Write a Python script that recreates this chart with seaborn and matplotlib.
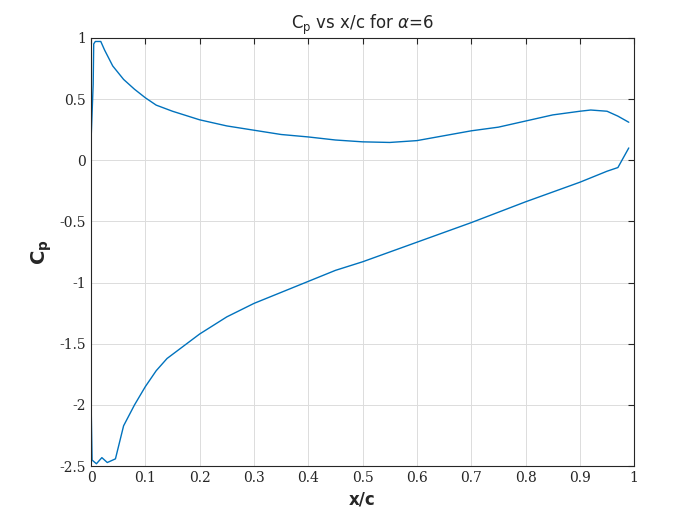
import numpy as np
import pandas as pd
import seaborn as sns
import matplotlib.pyplot as plt

# Surface points, traced from trailing edge (upper) round the leading edge to trailing edge (lower)
x_upper = [0.99, 0.97, 0.95, 0.92, 0.90, 0.85, 0.80, 0.75, 0.70, 0.65, 0.60, 0.55, 0.50,
           0.45, 0.40, 0.35, 0.30, 0.25, 0.20, 0.15, 0.12, 0.10, 0.08, 0.06, 0.04, 0.025,
           0.018, 0.008, 0.005, 0.004, 0.0]
cp_upper = [0.31, 0.36, 0.40, 0.41, 0.40, 0.37, 0.32, 0.27, 0.24, 0.20, 0.16, 0.145, 0.15,
            0.165, 0.19, 0.21, 0.245, 0.28, 0.33, 0.40, 0.45, 0.51, 0.58, 0.66, 0.77, 0.90,
            0.97, 0.97, 0.95, 0.62, 0.15]
x_lower = [0.0, 0.002, 0.01, 0.02, 0.03, 0.045, 0.06, 0.08, 0.10, 0.12, 0.14, 0.20, 0.25,
           0.30, 0.35, 0.40, 0.45, 0.50, 0.55, 0.60, 0.70, 0.80, 0.90, 0.95, 0.97, 0.99]
cp_lower = [-1.94, -2.45, -2.48, -2.43, -2.47, -2.44, -2.17, -2.0, -1.85, -1.72, -1.62,
            -1.42, -1.28, -1.17, -1.08, -0.99, -0.90, -0.83, -0.75, -0.67, -0.51, -0.34,
            -0.18, -0.09, -0.06, 0.10]

df = pd.DataFrame({'x': x_upper + x_lower, 'cp': cp_upper + cp_lower})

sns.set_style('white')
fig = plt.figure(figsize=(7, 5.25), dpi=100)
ax = fig.add_axes([0.13, 0.112, 0.776, 0.816])
sns.lineplot(data=df, x='x', y='cp', sort=False, estimator=None, color='#0072BD', lw=1, ax=ax)

ax.set_xlim(0, 1)
ax.set_ylim(-2.5, 1)
ax.set_xticks(np.arange(0, 1.01, 0.1))
ax.set_xticklabels(['0', '0.1', '0.2', '0.3', '0.4', '0.5', '0.6', '0.7', '0.8', '0.9', '1'])
ax.set_yticks(np.arange(-2.5, 1.01, 0.5))
ax.set_yticklabels(['-2.5', '-2', '-1.5', '-1', '-0.5', '0', '0.5', '1'])
ax.tick_params(direction='in', top=True, right=True, labelsize=10, length=4, colors='#262626')
for lab in ax.get_xticklabels() + ax.get_yticklabels():
    lab.set_fontfamily('DejaVu Serif')
ax.grid(True, color='#dcdcdc', lw=0.7)
for s in ax.spines.values():
    s.set_color('#262626')
    s.set_linewidth(0.8)

ax.set_title(r'C$_\mathregular{p}$ vs x/c for $\alpha$=6', fontsize=12)
ax.set_xlabel('x/c', fontsize=12, fontweight='bold')
ax.set_ylabel(r'C$_\mathbf{p}$', fontsize=14, fontweight='bold')

fig.savefig('out.png', dpi=100)
